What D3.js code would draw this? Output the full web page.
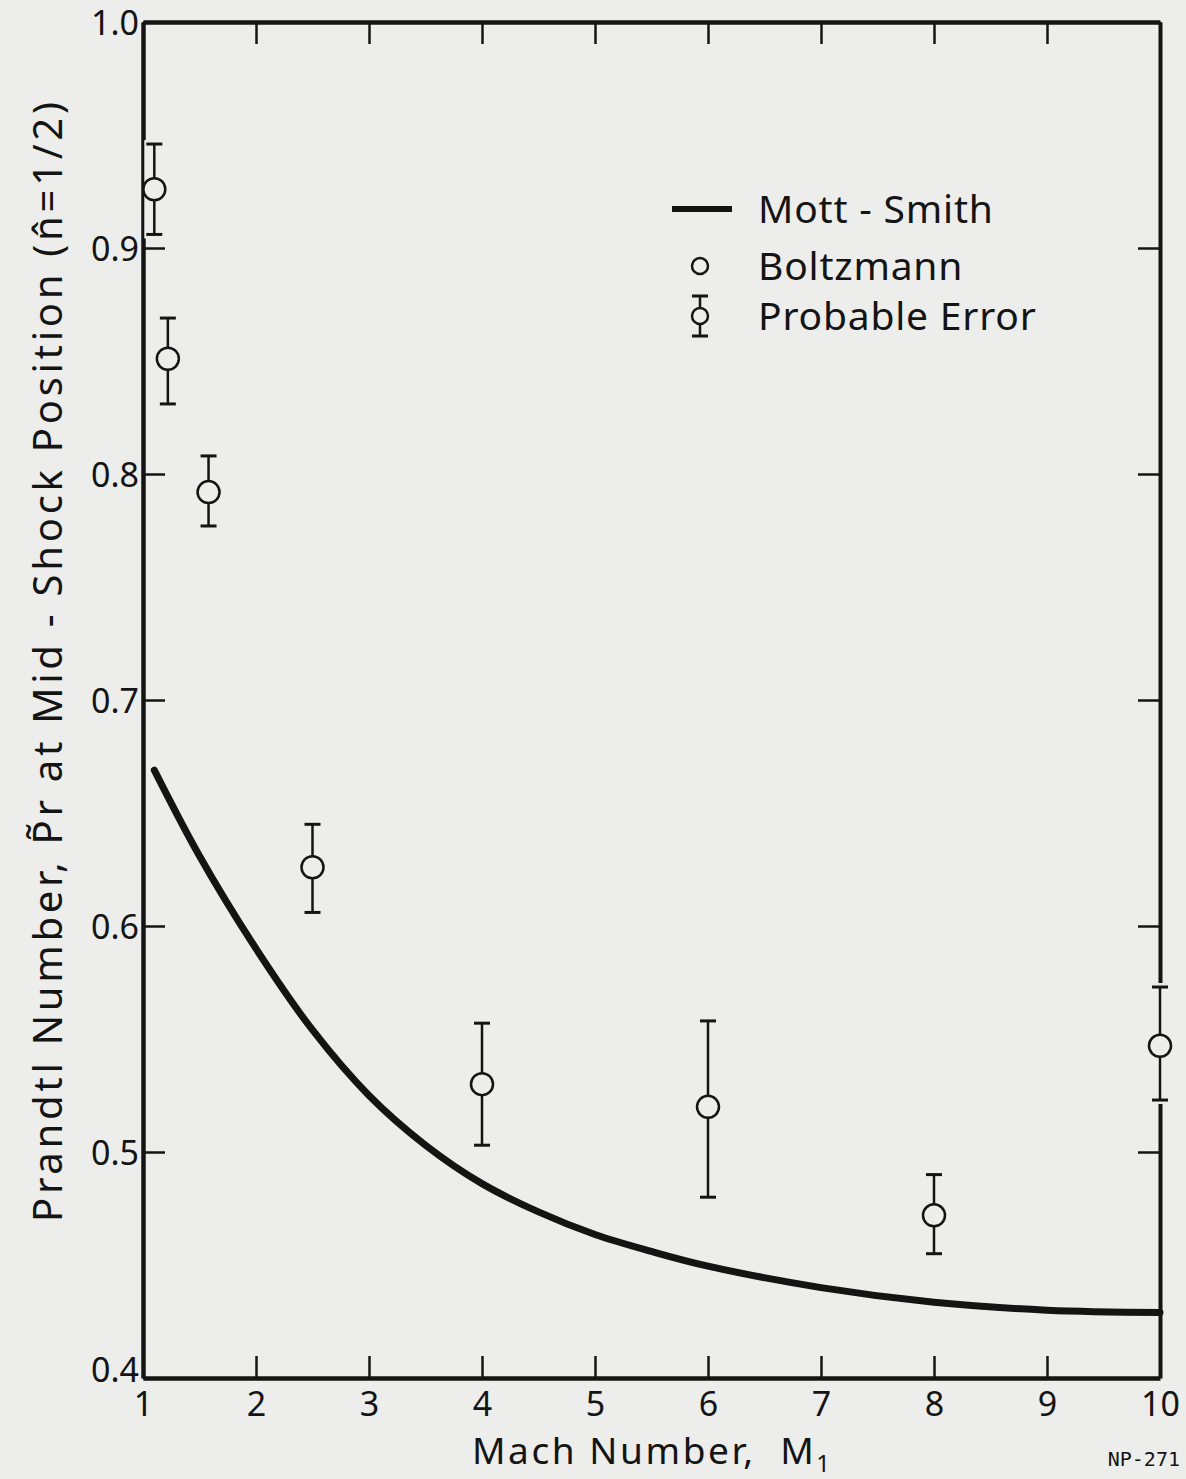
<!DOCTYPE html>
<html>
<head>
<meta charset="utf-8">
<script src="https://cdn.jsdelivr.net/npm/d3@7"></script>
<style>
  body { margin: 0; background: #ededeb; }
  svg { display: block; }
  text { font-family: "Noto Sans", "DejaVu Sans", sans-serif; fill: #141414; }
</style>
</head>
<body>
<div id="chart"></div>
<script>
const WIDTH = 1186, HEIGHT = 1479;
const BG = "#ededeb", INK = "#141414";

// Mott-Smith curve
const curveMach = [1.1, 1.5, 2, 2.5, 3, 3.5, 4, 4.5, 5, 5.5, 6, 7, 8, 9, 10];
const curvePr = [0.669, 0.631, 0.590, 0.554, 0.525, 0.503, 0.486, 0.4735, 0.4635, 0.456, 0.4495, 0.440, 0.4335, 0.430, 0.429];

// Boltzmann points with probable error
const ptMach = [1.1, 1.22, 1.58, 2.5, 4, 6, 8, 10];
const ptPr = [0.926, 0.851, 0.792, 0.626, 0.530, 0.520, 0.472, 0.547];
const ptHi = [0.946, 0.869, 0.808, 0.645, 0.557, 0.558, 0.490, 0.573];
const ptLo = [0.906, 0.831, 0.777, 0.606, 0.503, 0.480, 0.455, 0.523];

const xTicks = [1, 2, 3, 4, 5, 6, 7, 8, 9, 10];
const yTicks = [0.4, 0.5, 0.6, 0.7, 0.8, 0.9, 1.0];
const legendLabels = ["Mott - Smith", "Boltzmann", "Probable Error"];

const margin = { left: 143, right: 26, top: 22, bottom: 101 };
const innerW = WIDTH - margin.left - margin.right;
const innerH = HEIGHT - margin.top - margin.bottom;

const x = d3.scaleLinear().domain([1, 10]).range([0, innerW]);
const y = d3.scaleLinear().domain([0.4, 1.0]).range([innerH, 0]);

const svg = d3.select("#chart").append("svg")
    .attr("width", WIDTH)
    .attr("height", HEIGHT)
const g = svg.append("g").attr("transform", `translate(${margin.left},${margin.top})`);

const TICK = 22;
function styleAxis(sel, stroke) {
    sel.select(".domain").attr("stroke", INK).attr("stroke-width", stroke);
    sel.selectAll(".tick line").attr("stroke", INK).attr("stroke-width", 2.5);
    sel.selectAll(".tick text").style("font-size", "34px").attr("fill", INK);
}

const xAxis = g.append("g").attr("transform", `translate(0,${innerH})`)
    .call(d3.axisBottom(x).tickValues(xTicks).tickFormat(d3.format("d")).tickSizeInner(-TICK).tickSizeOuter(0).tickPadding(14));
styleAxis(xAxis, 4.5);
const yAxis = g.append("g")
    .call(d3.axisLeft(y).tickValues(yTicks).tickFormat(d3.format(".1f")).tickSizeInner(-TICK).tickSizeOuter(0).tickPadding(6));
styleAxis(yAxis, 4.5);
yAxis.selectAll(".tick text").attr("dy", d => d === 0.4 ? "0.1em" : "0.36em").attr("x", -4);
const topAxis = g.append("g")
    .call(d3.axisTop(x).tickValues(xTicks).tickFormat("").tickSizeInner(-TICK).tickSizeOuter(0));
styleAxis(topAxis, 4.5);
const rightAxis = g.append("g").attr("transform", `translate(${innerW},0)`)
    .call(d3.axisRight(y).tickValues(yTicks).tickFormat("").tickSizeInner(-TICK).tickSizeOuter(0));
styleAxis(rightAxis, 4);

// curve
const line = d3.line().x(d => x(d[0])).y(d => y(d[1])).curve(d3.curveCatmullRom.alpha(0.5));
g.append("path")
    .datum(d3.zip(curveMach, curvePr))
    .attr("d", line)
    .attr("fill", "none")
    .attr("stroke", INK)
    .attr("stroke-width", 7)
    .attr("stroke-linecap", "round");

// error bars with a paper-coloured halo (breaks the frame at M=10)
const pts = ptMach.map((m, i) => ({ m, v: ptPr[i], hi: ptHi[i], lo: ptLo[i] }));
const CAP = 8, R = 11;
const pg = g.selectAll(".pt").data(pts).enter().append("g").attr("class", "pt");
pg.append("rect")
    .attr("x", d => x(d.m) - CAP - 2)
    .attr("y", d => y(d.hi) - 4)
    .attr("width", 2 * CAP + 4)
    .attr("height", d => y(d.lo) - y(d.hi) + 8)
    .attr("fill", BG);
pg.append("line")
    .attr("x1", d => x(d.m)).attr("x2", d => x(d.m))
    .attr("y1", d => y(d.hi)).attr("y2", d => y(d.lo))
    .attr("stroke", INK).attr("stroke-width", 2.5);
pg.selectAll(".cap").data(d => [[d.m, d.hi], [d.m, d.lo]]).enter().append("line")
    .attr("x1", d => x(d[0]) - CAP).attr("x2", d => x(d[0]) + CAP)
    .attr("y1", d => y(d[1])).attr("y2", d => y(d[1]))
    .attr("stroke", INK).attr("stroke-width", 3);
pg.append("circle")
    .attr("cx", d => x(d.m)).attr("cy", d => y(d.v)).attr("r", R)
    .attr("fill", BG).attr("stroke", INK).attr("stroke-width", 2.5);

// legend
const lg = svg.append("g").attr("transform", "translate(700,0)");
const rows = [209, 266, 316];
lg.append("line").attr("x1", -28).attr("x2", 32).attr("y1", rows[0]).attr("y2", rows[0])
    .attr("stroke", INK).attr("stroke-width", 6);
lg.append("circle").attr("cx", 0).attr("cy", rows[1]).attr("r", 8)
    .attr("fill", "none").attr("stroke", INK).attr("stroke-width", 2.5);
lg.append("line").attr("x1", 0).attr("x2", 0).attr("y1", rows[2] - 20).attr("y2", rows[2] + 20)
    .attr("stroke", INK).attr("stroke-width", 2.5);
lg.selectAll(".lcap").data([rows[2] - 20, rows[2] + 20]).enter().append("line")
    .attr("x1", -8).attr("x2", 8).attr("y1", d => d).attr("y2", d => d)
    .attr("stroke", INK).attr("stroke-width", 3);
lg.append("circle").attr("cx", 0).attr("cy", rows[2]).attr("r", 8)
    .attr("fill", BG).attr("stroke", INK).attr("stroke-width", 2.5);
lg.selectAll(".ltxt").data(legendLabels).enter().append("text")
    .attr("x", 58).attr("y", (d, i) => rows[i] + 14)
    .style("font-size", "39px")
    .style("letter-spacing", "0.8px")
    .text(d => d);

// axis titles
svg.append("text")
    .attr("x", 472).attr("y", 1464)
    .attr("textLength", 358)
    .attr("lengthAdjust", "spacing")
    .style("font-size", "37px")
    .html('Mach Number, &#160;M<tspan dy="8" style="font-size:24px">1</tspan>');
svg.append("text")
    .attr("transform", "translate(62,1222) rotate(-90)")
    .attr("textLength", 1120)
    .attr("lengthAdjust", "spacing")
    .style("font-size", "40px")
    .text("Prandtl Number, P\u0303r at Mid - Shock Position (n\u0302=1/2)");

svg.append("text")
    .attr("x", 1180).attr("y", 1466)
    .attr("text-anchor", "end")
    .style("font-size", "20px")
    .style("font-family", "DejaVu Sans Mono")
    .text("NP-271");
</script>
</body>
</html>
